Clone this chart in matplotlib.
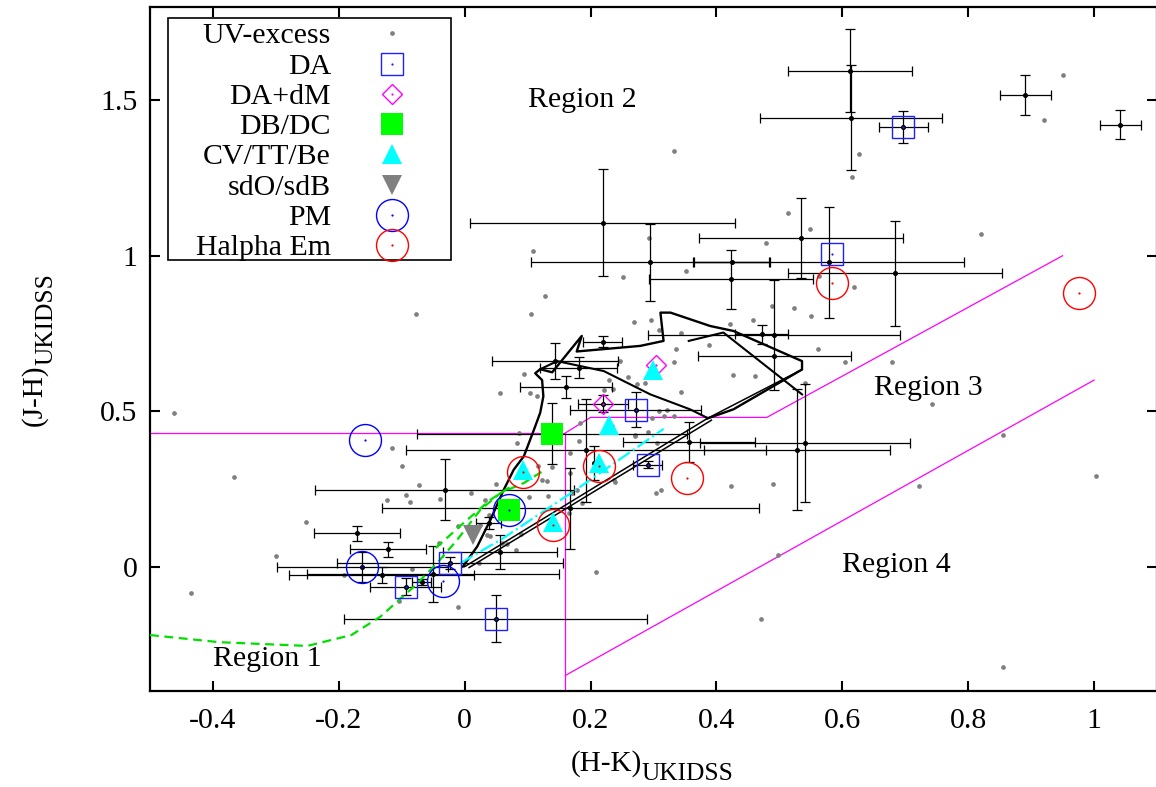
"""Colour-colour diagram (H-K) vs (J-H), UKIDSS, with the UV-excess sources,
spectral classes, loci and the four selection regions."""
import numpy as np
import matplotlib
matplotlib.use("Agg")
import matplotlib.pyplot as plt

plt.rcParams['font.family'] = ['Liberation Serif', 'DejaVu Serif']
plt.rcParams['axes.unicode_minus'] = False

FS = 21.5
GREY = '#808080'

# ---------------- datos ----------------
# UV-excess sin barras de error: (H-K, J-H)
uvx = [(0.333, 1.338), (0.108, 1.016), (0.128, 0.871), (0.252, 0.932), (0.293, 1.057), (0.351, 0.952),
       (0.478, 1.042), (0.951, 1.58), (0.921, 1.435), (0.627, 1.326), (0.615, 1.253), (0.514, 1.136),
       (0.548, 1.086), (0.820, 1.070), (0.563, 0.934), (0.619, 0.90), (0.489, 0.837), (0.524, 0.831),
       (0.55, 0.805), (0.562, 0.701), (0.105, 0.812), (0.269, 0.787), (0.296, 0.794), (0.308, 0.761),
       (0.343, 0.753), (0.335, 0.699), (0.332, 0.658), (0.421, 0.78), (0.458, 0.793), (0.427, 0.615),
       (0.462, 0.612), (0.54, 0.592), (0.388, 0.713), (0.247, 0.661), (0.259, 0.611), (0.274, 0.588),
       (0.286, 0.592), (0.344, 0.561), (0.094, 0.618), (0.056, 0.559), (0.104, 0.557), (0.221, 0.568),
       (0.235, 0.57), (0.229, 0.60), (-0.078, 0.812), (0.115, 0.548), (0.297, 0.479), (0.316, 0.484),
       (0.332, 0.484), (0.321, 0.505), (0.308, 0.502), (0.184, 0.463), (0.181, 0.403), (0.167, 0.364),
       (0.086, 0.43), (0.083, 0.398), (-0.115, 0.382), (-0.099, 0.323), (-0.073, 0.264), (-0.094, 0.231),
       (-0.123, 0.215), (-0.087, 0.208), (-0.039, 0.218), (0.010, 0.237), (0.050, 0.266), (0.123, 0.28),
       (0.131, 0.274), (0.138, 0.32), (0.117, 0.323), (0.167, 0.301), (0.178, 0.247), (0.170, 0.237),
       (0.165, 0.172), (0.186, 0.204), (0.133, 0.228), (0.237, 0.28), (0.239, 0.271), (0.304, 0.237),
       (0.312, 0.245), (0.271, 0.422), (0.305, 0.398), (0.234, 0.452), (0.291, 0.432), (0.27, 0.421),
       (0.423, 0.26), (0.490, 0.267), (-0.462, 0.495), (-0.367, 0.288), (-0.435, -0.084), (-0.30, 0.035),
       (-0.252, 0.144), (-0.192, -0.027), (-0.105, -0.11), (-0.010, -0.129), (-0.084, -0.008),
       (0.022, 0.011), (0.033, 0.215), (0.038, 0.167), (-0.041, 0.077), (0.082, 0.054), (0.025, 0.134),
       (0.036, 0.102), (0.067, 0.073), (0.090, 0.105), (0.102, 0.224), (-0.010, 0.131), (0.208, -0.016),
       (0.041, 0.097), (0.059, 0.075), (0.679, 0.659), (0.605, 0.657), (0.742, 0.524), (0.856, 0.423),
       (0.722, 0.258), (0.498, 0.038), (0.471, -0.167), (0.856, -0.323), (1.003, 0.29)]
uvx_hk = [p[0] for p in uvx]; uvx_jh = [p[1] for p in uvx]

# fuentes con barras de error: hk, jh, err_hk, err_jh
eb_hk  = [0.612, 0.614, 0.697, 0.891, 1.042, 0.534, 0.579, 0.684, 0.492, 0.472, 0.492, 0.219, 0.295, 0.423,
          0.424, 0.219, 0.144, 0.181, 0.161, 0.139, 0.192, 0.168, 0.272, 0.220, 0.291, 0.357, 0.528, 0.541,
          -0.032, -0.171, -0.122, -0.163, -0.132, -0.094, -0.068, -0.050, 0.049, 0.056, -0.023, 0.038, 0.206]
eb_jh  = [1.595, 1.444, 1.414, 1.516, 1.421, 1.057, 0.979, 0.943, 0.744, 0.747, 0.677, 1.106, 0.979, 0.925,
          0.979, 0.723, 0.661, 0.640, 0.577, 0.428, 0.374, 0.188, 0.505, 0.524, 0.328, 0.401, 0.376, 0.398,
          0.247, 0.108, 0.056, 0.000, -0.027, -0.065, -0.050, -0.024, -0.167, 0.048, 0.011, 0.140, 0.334]
eb_ehk = [0.099, 0.144, 0.039, 0.040, 0.033, 0.162, 0.214, 0.170, 0.200, 0.042, 0.122, 0.211, 0.189, 0.130,
          0.061, 0.031, 0.100, 0.061, 0.073, 0.214, 0.286, 0.300, 0.104, 0.040, 0.023, 0.105, 0.147, 0.167,
          0.206, 0.068, 0.060, 0.136, 0.147, 0.056, 0.015, 0.200, 0.241, 0.090, 0.180, 0.020, np.nan]
eb_ejh = [0.134, 0.169, 0.052, 0.064, 0.047, 0.128, 0.179, 0.170, 0.177, 0.030, np.nan, 0.172, 0.124, 0.095,
          np.nan, 0.018, 0.059, 0.034, 0.036, 0.097, 0.166, 0.130, 0.056, 0.028, 0.012, 0.065, 0.194, 0.190,
          0.098, 0.024, 0.024, 0.048, 0.026, 0.027, 0.010, 0.089, 0.076, 0.054, 0.020, 0.020, 0.055]

# clases espectroscopicas
da_hk   = [0.697, 0.583, 0.272, 0.291, -0.023, -0.094, 0.049]
da_jh   = [1.414, 1.006, 0.505, 0.328, 0.011, -0.065, -0.167]
dadm_hk = [0.304, 0.220]
dadm_jh = [0.648, 0.524]
dbdc_hk = [0.139, 0.071]
dbdc_jh = [0.428, 0.181]
cv_hk   = [0.299, 0.230, 0.092, 0.213, 0.141]
cv_jh   = [0.632, 0.457, 0.312, 0.334, 0.145]
sdob_hk = [0.014]
sdob_jh = [0.102]
pm_hk   = [-0.159, -0.163, -0.034, 0.071]
pm_jh   = [0.407, 0.000, -0.045, 0.183]
ha_hk   = [0.093, 0.213, 0.141, 0.584, 0.976, 0.353]
ha_jh   = [0.303, 0.323, 0.135, 0.912, 0.880, 0.285]

# locus de enanas + rama de gigantes (linea negra)
dw_hk = [-0.003, 0.020, 0.041, 0.062, 0.078, 0.094, 0.110, 0.120, 0.125, 0.123, 0.112, 0.120, 0.139,
         0.186, 0.178, 0.279, 0.316, 0.311, 0.327, 0.390, 0.427, 0.536, 0.536, 0.427, 0.385]
dw_jh = [0.000, 0.065, 0.151, 0.247, 0.312, 0.355, 0.440, 0.495, 0.548, 0.600, 0.622, 0.635, 0.625,
         0.742, 0.692, 0.710, 0.726, 0.817, 0.817, 0.774, 0.758, 0.661, 0.634, 0.506, 0.476]
gb_hk = [0.356, 0.411, 0.536]
gb_jh = [0.726, 0.753, 0.554]
gl_hk = [0.120, 0.147, 0.221, 0.295, 0.358, 0.385]
gl_jh = [0.635, 0.661, 0.629, 0.554, 0.506, 0.479]
# vector de enrojecimiento (linea doble)
rv1_hk = [0.000, 0.385, 0.536]
rv1_jh = [0.000, 0.476, 0.634]
rv2_hk = [0.007, 0.392]
rv2_jh = [-0.003, 0.471]
# secuencias de enfriamiento (verde) y linea cian
wd1_hk = [-0.50, -0.39, -0.25, -0.18, -0.134, -0.081, -0.044, -0.012, 0.025, 0.057, 0.094, 0.123]
wd1_jh = [-0.220, -0.243, -0.255, -0.220, -0.161, -0.065, 0.011, 0.086, 0.183, 0.237, 0.269, 0.306]
wd2_hk = [-0.046, -0.002, 0.041, 0.078]
wd2_jh = [0.060, 0.140, 0.215, 0.264]
cy_hk = [-0.007, 0.060, 0.173, 0.316]
cy_jh = [0.011, 0.090, 0.242, 0.443]

# fronteras de las regiones (magenta)
r1_hk = [-0.5, 0.16, 0.16]
r1_jh = [0.43, 0.43, -0.40]
r2_hk = [0.16, 0.20, 0.48, 0.95]
r2_jh = [0.43, 0.48, 0.48, 1.00]
r3_hk = [0.16, 1.00]
r3_jh = [-0.35, 0.60]

regions = [("Region 1", -0.40, -0.318), ("Region 2", 0.10, 1.479),
           ("Region 3", 0.65, 0.553), ("Region 4", 0.60, -0.017)]

xticks = [-0.4, -0.2, 0, 0.2, 0.4, 0.6, 0.8, 1.0]
xtlab = ["-0.4", "-0.2", "0", "0.2", "0.4", "0.6", "0.8", "1"]
yticks = [0, 0.5, 1.0, 1.5]
ytlab = ["0", "0.5", "1", "1.5"]

# ---------------- figura ----------------
W, H = 1156, 787
fig = plt.figure(figsize=(W / 100, H / 100), dpi=100)
L, R, T, B = 150, 1157, 7, 691
ax = fig.add_axes([L / W, (H - B) / H, (R - L) / W, (B - T) / H])

ax.plot(r1_hk, r1_jh, color='#ff00ff', lw=0.9, zorder=1)
ax.plot(r2_hk, r2_jh, color='#ff00ff', lw=0.9, zorder=1)
ax.plot(r3_hk, r3_jh, color='#ff00ff', lw=0.9, zorder=1)

ax.plot(uvx_hk, uvx_jh, 'o', color=GREY, ms=3.4, mew=0, zorder=2)
ax.errorbar(eb_hk, eb_jh, xerr=eb_ehk, yerr=eb_ejh, fmt='o', ms=2.6, color='black',
            ecolor='black', elinewidth=0.9, capsize=3.6, capthick=0.9, zorder=3)

ax.plot(dw_hk, dw_jh, color='black', lw=1.7, zorder=4)
ax.plot(gb_hk, gb_jh, color='black', lw=1.5, zorder=4)
ax.plot(gl_hk, gl_jh, color='black', lw=1.5, zorder=4)
ax.plot(rv1_hk, rv1_jh, color='black', lw=1.1, zorder=4)
ax.plot(rv2_hk, rv2_jh, color='black', lw=1.1, zorder=4)
ax.plot(wd1_hk, wd1_jh, '--', color='#00e000', lw=1.6, dashes=(4, 2.5), zorder=4)
ax.plot(wd2_hk, wd2_jh, '--', color='#00e000', lw=1.6, dashes=(4, 2.5), zorder=4)
ax.plot(cy_hk, cy_jh, '-.', color='#00ffff', lw=1.6, zorder=4)

# estilos de cada clase (se reutilizan para la leyenda)
styles = [
    ("UV-excess",   dict(marker='o', ms=3.4, mfc=GREY, mec=GREY, mew=0), None),
    ("DA",          dict(marker='s', ms=15.5, mfc='none', mec='#2020ff', mew=1.0), '#2020ff'),
    ("DA+dM",       dict(marker='D', ms=10.5, mfc='none', mec='#ff00ff', mew=1.0), '#ff00ff'),
    ("DB/DC",       dict(marker='s', ms=15.5, mfc='#00ff00', mec='#00ff00', mew=0), None),
    ("CV/TT/Be",    dict(marker='^', ms=14, mfc='#00ffff', mec='#00ffff', mew=0), None),
    ("sdO/sdB",     dict(marker='v', ms=14, mfc=GREY, mec=GREY, mew=0), None),
    ("PM",          dict(marker='o', ms=23, mfc='none', mec='#0000ff', mew=1.0), '#0000ff'),
    ("Halpha Em",   dict(marker='o', ms=23, mfc='none', mec='#ff0000', mew=1.0), '#ff0000'),
]
sets = [(None, None), (da_hk, da_jh), (dadm_hk, dadm_jh), (dbdc_hk, dbdc_jh), (cv_hk, cv_jh),
        (sdob_hk, sdob_jh), (pm_hk, pm_jh), (ha_hk, ha_jh)]
for (name, st, dot), (xs, ys) in zip(styles, sets):
    if xs is None: continue
    ax.plot(xs, ys, ls='none', zorder=5, **st)
    if dot: ax.plot(xs, ys, 'o', ms=1.6, mew=0, color=dot, zorder=6)

for txt, x, y in regions:
    ax.text(x, y, txt, fontsize=FS, ha='left', va='baseline', zorder=7)

# leyenda a mano (texto alineado a la derecha, estilo gnuplot)
ax_h = B - T; ax_w = R - L
def fx(px): return (px - L) / ax_w
def fy(py): return 1 - (py - T) / ax_h
ax.add_patch(plt.Rectangle((fx(168), fy(260)), fx(451) - fx(168), fy(18) - fy(260),
                           transform=ax.transAxes, fill=False, ec='black', lw=1.2, zorder=8))
for i, (name, st, dot) in enumerate(styles):
    yy = 33.3 + 30.25 * i
    ax.text(fx(331), fy(yy + 10), name, fontsize=FS, ha='right', va='baseline',
            transform=ax.transAxes, zorder=9)
    ax.plot([fx(391.7)], [fy(yy)], ls='none', transform=ax.transAxes, clip_on=False, zorder=9, **st)
    if dot: ax.plot([fx(391.7)], [fy(yy)], 'o', ms=1.6, mew=0, color=dot,
                    transform=ax.transAxes, clip_on=False, zorder=9)

ax.set_xlim(-0.5, 1.1); ax.set_ylim(-0.4, 1.8)
ax.set_xticks(xticks); ax.set_xticklabels(xtlab)
ax.set_yticks(yticks); ax.set_yticklabels(ytlab)
ax.tick_params(direction='in', length=7, width=1.5, top=True, right=True, labelsize=FS)
ax.tick_params(axis='x', pad=12.5); ax.tick_params(axis='y', pad=9)
for s in ax.spines.values(): s.set_linewidth(1.6)

# titulos de ejes con subindice grande (como en gnuplot), en pixeles de la figura
def fig_xy(px, py): return px / W, 1 - py / H
fig.text(*fig_xy(641.7, 771.0), "(H-K)", fontsize=21, ha='right', va='baseline')
fig.text(*fig_xy(641.7, 780.5), "UKIDSS", fontsize=18.3, ha='left', va='baseline')
fig.text(*fig_xy(41.0, 364.6), "(J-H)", fontsize=21, ha='right', va='baseline',
         rotation=90, rotation_mode='anchor')
fig.text(*fig_xy(52.7, 364.6), "UKIDSS", fontsize=18.3, ha='left', va='baseline',
         rotation=90, rotation_mode='anchor')

fig.savefig("out.png", dpi=100)
